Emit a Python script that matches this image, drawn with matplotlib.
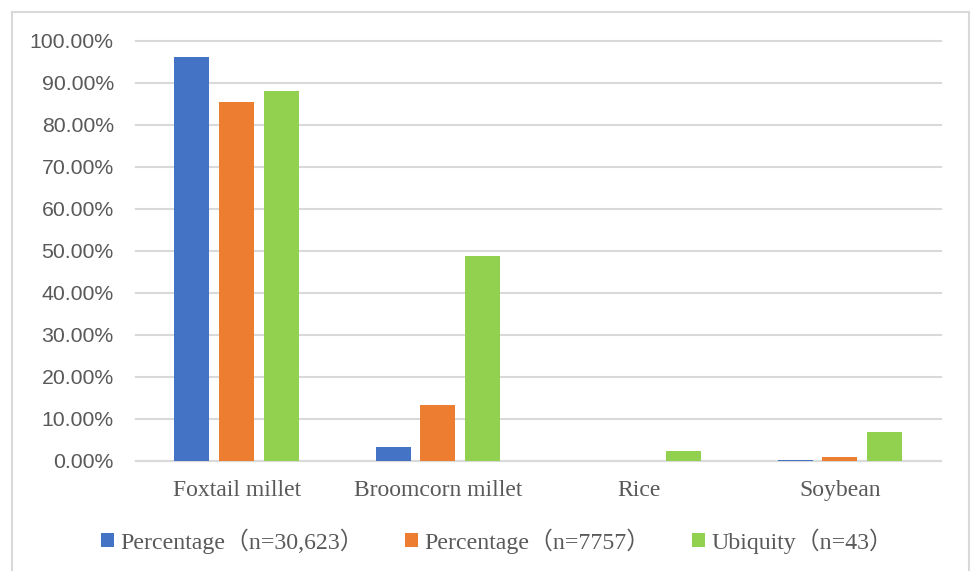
import matplotlib
matplotlib.use('Agg')
import matplotlib.pyplot as plt
from matplotlib.lines import Line2D
from matplotlib.ticker import FuncFormatter
import numpy as np

categories = ['Foxtail millet', 'Broomcorn millet', 'Rice', 'Soybean']
series_names = ['Percentage\uff08n=30,623\uff09', 'Percentage\uff08n=7757\uff09', 'Ubiquity\uff08n=43\uff09']
pct_30623 = [0.961, 0.032, 0.0, 0.001]
pct_7757 = [0.854, 0.132, 0.0, 0.009]
ubiquity = [0.882, 0.487, 0.022, 0.068]
colors = ['#4472C4', '#ED7D31', '#92D050']

W, H = 971, 571
fig = plt.figure(figsize=(W / 100, H / 100), dpi=100)

# light frame round the chart area (bottom edge is cut off in the original)
frame_c = '#D9D9D9'
fig.add_artist(Line2D([12 / W, 12 / W], [0, 1 - 12 / H], color=frame_c, lw=1.5))
fig.add_artist(Line2D([12 / W, 969 / W], [1 - 12 / H, 1 - 12 / H], color=frame_c, lw=1.5))
fig.add_artist(Line2D([969 / W, 969 / W], [0, 1 - 12 / H], color=frame_c, lw=1.5))

ax = fig.add_axes([136 / W, 1 - 460.5 / H, (940.5 - 136) / W, (460.5 - 41) / H])

x = np.arange(len(categories))
step = 0.222
width = 0.174
handles = []
for i, (vals, name) in enumerate(zip([pct_30623, pct_7757, ubiquity], series_names)):
    b = ax.bar(x + (i - 1) * step, vals, width, color=colors[i], label=name, zorder=3)
    handles.append(b)

ax.set_xlim(-0.5, len(categories) - 0.5)
ax.set_ylim(0, 1.0)
ax.set_yticks(np.arange(0, 1.01, 0.1))
ax.yaxis.set_major_formatter(FuncFormatter(lambda v, p: f'{v * 100:.2f}%'))
ax.grid(axis='y', color='#D9D9D9', lw=1.5, zorder=0)
for gl in ax.get_ygridlines():
    gl.set_clip_on(False)
for s in ['top', 'right', 'left']:
    ax.spines[s].set_visible(False)
ax.spines['bottom'].set_color('#D9D9D9')
ax.spines['bottom'].set_linewidth(1.5)
ax.tick_params(axis='both', length=0, colors='#595959')
ax.tick_params(axis='y', pad=16)
ax.tick_params(axis='x', pad=14)
for lab in ax.get_yticklabels():
    lab.set_fontfamily('Liberation Sans')
    lab.set_fontsize(15.3)
ax.set_xticks(x)
ax.set_xticklabels(categories, fontfamily='Liberation Serif', fontsize=17, color='#595959')

leg = fig.legend(handles=handles, labels=series_names, loc='center', bbox_to_anchor=(497 / W, 1 - 541 / H),
                 ncol=3, frameon=False, handlelength=0.55, handleheight=0.55, handletextpad=0.25,
                 columnspacing=1.75,
                 prop={'family': ['Liberation Serif', 'Noto Sans CJK SC'], 'size': 17.2})
for t in leg.get_texts():
    t.set_color('#595959')

plt.savefig('out.png', dpi=100)
